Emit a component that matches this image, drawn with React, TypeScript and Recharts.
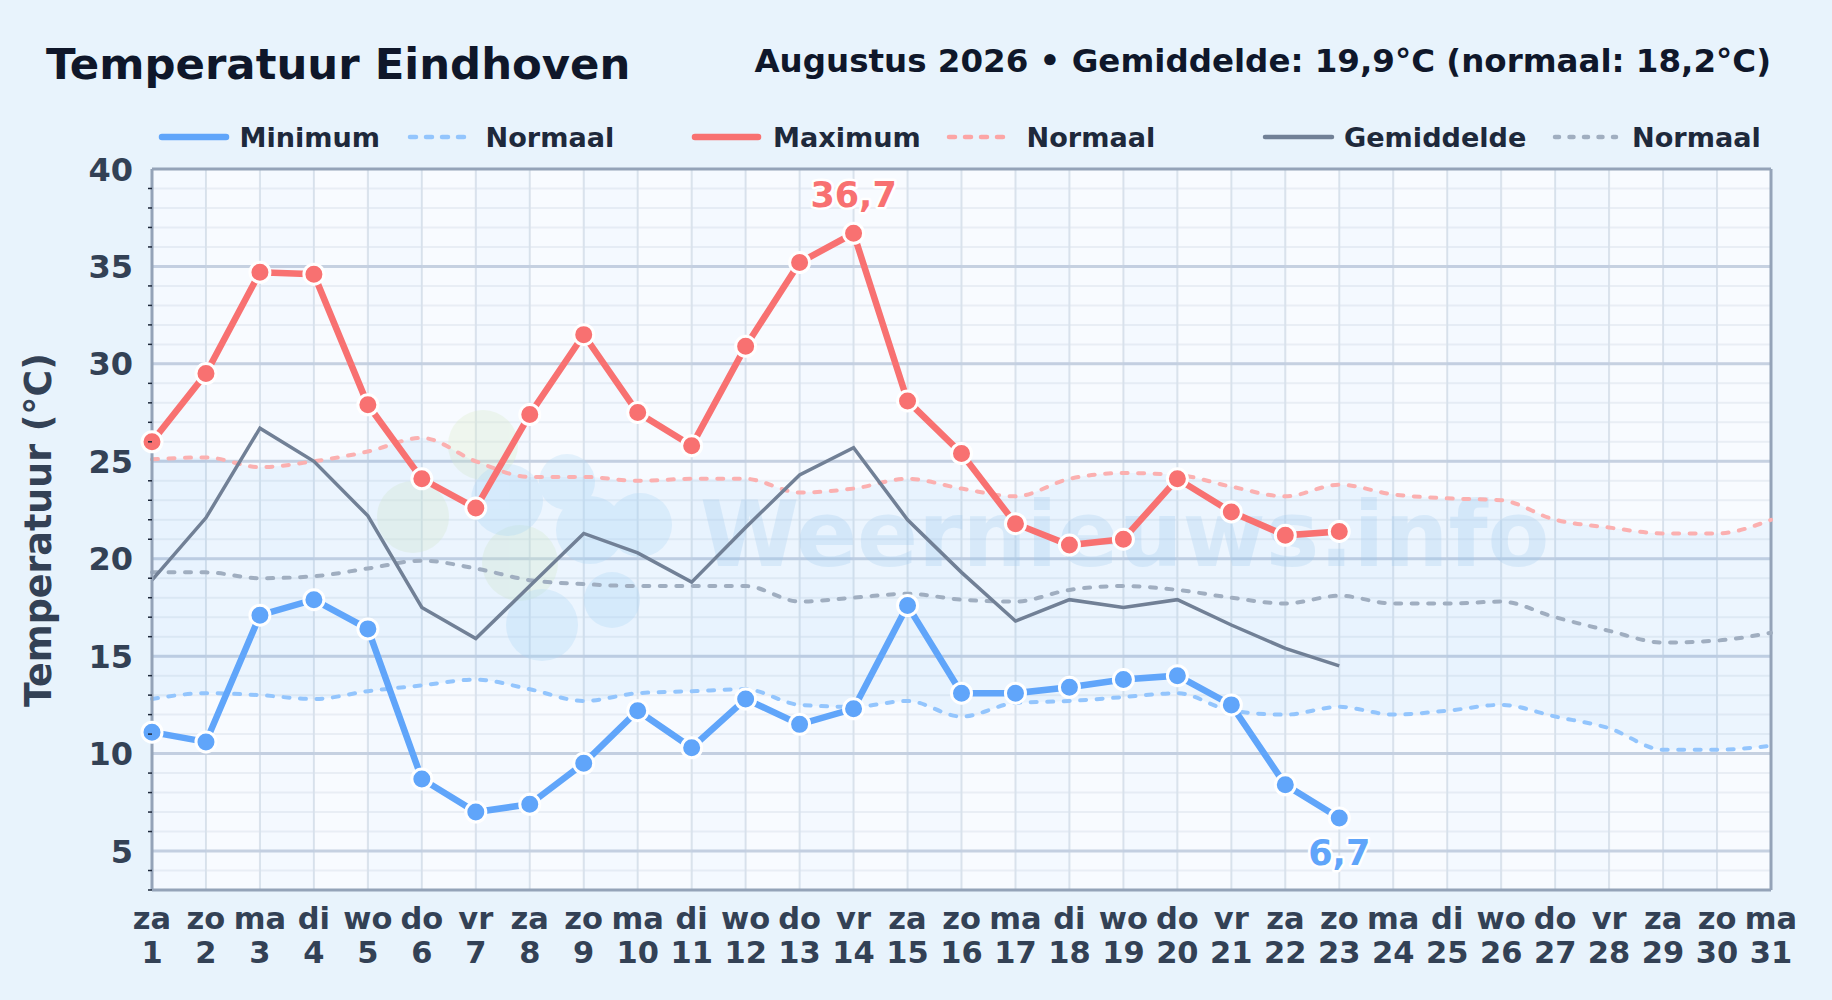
import { Area, CartesianGrid, ComposedChart, Customized, Legend, Line, ReferenceArea, ReferenceLine, XAxis, YAxis } from 'recharts';

// Temperaturen augustus 2026, Eindhoven
const days = [1, 2, 3, 4, 5, 6, 7, 8, 9, 10, 11, 12, 13, 14, 15, 16, 17, 18, 19, 20, 21, 22, 23, 24, 25, 26, 27, 28, 29, 30, 31];
const weekdays = ['za', 'zo', 'ma', 'di', 'wo', 'do', 'vr', 'za', 'zo', 'ma', 'di', 'wo', 'do', 'vr', 'za', 'zo', 'ma', 'di', 'wo', 'do', 'vr', 'za', 'zo', 'ma', 'di', 'wo', 'do', 'vr', 'za', 'zo', 'ma'];
const maxTemps = [26.0, 29.5, 34.7, 34.6, 27.9, 24.1, 22.6, 27.4, 31.5, 27.5, 25.8, 30.9, 35.2, 36.7, 28.1, 25.4, 21.8, 20.7, 21.0, 24.1, 22.4, 21.2, 21.4];
const minTemps = [11.1, 10.6, 17.1, 17.9, 16.4, 8.7, 7.0, 7.4, 9.5, 12.2, 10.3, 12.8, 11.5, 12.3, 17.6, 13.1, 13.1, 13.4, 13.8, 14.0, 12.5, 8.4, 6.7];
const meanTemps = [18.9, 22.1, 26.7, 25.0, 22.2, 17.5, 15.9, 18.6, 21.3, 20.3, 18.8, 21.6, 24.3, 25.7, 22.0, 19.3, 16.8, 17.9, 17.5, 17.9, 16.6, 15.4, 14.5];
const normalMax = [25.1, 25.2, 24.7, 25.0, 25.5, 26.2, 25.0, 24.2, 24.2, 24.0, 24.1, 24.1, 23.4, 23.6, 24.1, 23.6, 23.2, 24.1, 24.4, 24.3, 23.7, 23.2, 23.8, 23.3, 23.1, 23.0, 22.0, 21.6, 21.3, 21.3, 22.0];
const normalMean = [19.3, 19.3, 19.0, 19.1, 19.5, 19.9, 19.5, 18.9, 18.7, 18.6, 18.6, 18.6, 17.8, 18.0, 18.2, 17.9, 17.8, 18.4, 18.6, 18.4, 18.0, 17.7, 18.1, 17.7, 17.7, 17.8, 17.0, 16.3, 15.7, 15.8, 16.2];
const normalMin = [12.8, 13.1, 13.0, 12.8, 13.2, 13.5, 13.8, 13.3, 12.7, 13.1, 13.2, 13.3, 12.5, 12.4, 12.7, 11.9, 12.6, 12.7, 12.9, 13.1, 12.2, 12.0, 12.4, 12.0, 12.2, 12.5, 11.9, 11.3, 10.2, 10.2, 10.4];

const yTicks = [3, 4, 5, 6, 7, 8, 9, 10, 11, 12, 13, 14, 15, 16, 17, 18, 19, 20, 21, 22, 23, 24, 25, 26, 27, 28, 29, 30, 31, 32, 33, 34, 35, 36, 37, 38, 39, 40];
const stripeStarts = [1, 3, 5, 7, 9, 11, 13, 15, 17, 19, 21, 23, 25, 27, 29];
const highestDay = 14;
const lowestDay = 23;

const FONT = '"DejaVu Sans", sans-serif';
const BLUE = '#60a5fa';
const RED = '#f87171';
const GREY = '#718096';
const AXIS_TEXT = '#334155';

const legendItems = [
  { name: 'Minimum', color: BLUE, x1: 162, x2: 226, textX: 239.5, width: 6.5, dash: undefined },
  { name: 'Normaal', color: '#93c5fd', x1: 410, x2: 464, textX: 485.5, width: 4.5, dash: '6 10' },
  { name: 'Maximum', color: RED, x1: 695, x2: 758, textX: 773, width: 6.5, dash: undefined },
  { name: 'Normaal', color: '#fca5a5', x1: 949, x2: 1003, textX: 1026.5, width: 4.5, dash: '6 10' },
  { name: 'Gemiddelde', color: GREY, x1: 1265, x2: 1332, textX: 1344, width: 4.5, dash: undefined },
  { name: 'Normaal', color: '#a0aec0', x1: 1555, x2: 1616, textX: 1632, width: 4.5, dash: '4 10.5' },
];

const data = days.map((day, i) => ({
  day,
  max: maxTemps[i] ?? null,
  min: minTemps[i] ?? null,
  mean: meanTemps[i] ?? null,
  normalMax: normalMax[i],
  normalMean: normalMean[i],
  normalMin: normalMin[i],
  band: [normalMin[i], normalMax[i]],
}));

function DayTick({ x, y, payload }: any) {
  return (
    <text x={x} textAnchor="middle" fontFamily={FONT} fontWeight={700} fontSize={30.5} fill={AXIS_TEXT}>
      <tspan x={x} y={y + 31}>{weekdays[payload.value - 1]}</tspan>
      <tspan x={x} y={y + 65}>{payload.value}</tspan>
    </text>
  );
}

function TempTick({ x, y, payload }: any) {
  if (payload.value % 5 === 0) {
    return (
      <text x={x - 11} y={y + 11.5} textAnchor="end" fontFamily={FONT} fontWeight={700} fontSize={32} fill={AXIS_TEXT}>
        {payload.value}
      </text>
    );
  }
  return <line x1={x + 4} x2={x + 8} y1={y} y2={y} stroke="#1e293b" strokeWidth={1.5} />;
}

function Dot({ cx, cy, color }: any) {
  if (cx == null || cy == null) return null;
  return <circle cx={cx} cy={cy} r={10} fill={color} stroke="#fff" strokeWidth={3} />;
}

function ValueLabel({ x, y, value, index, day, color, dy }: any) {
  if (days[index] !== day) return null;
  return (
    <text
      x={x}
      y={y + dy}
      textAnchor="middle"
      fontFamily={FONT}
      fontWeight={700}
      fontSize={35}
      fill={color}
      stroke="#fff"
      strokeWidth={5}
      strokeLinejoin="round"
      paintOrder="stroke"
    >
      {String(value).replace('.', ',')}
    </text>
  );
}

// logo + naam op de achtergrond
function Watermark() {
  return (
    <g>
      <g fill="#dcedc8" opacity={0.3}>
        <circle cx={483} cy={445} r={35} />
        <circle cx={413} cy={517} r={36} />
        <circle cx={520} cy={563} r={38} />
      </g>
      <g fill="#b5dcf7" opacity={0.3}>
        <circle cx={507} cy={500} r={36} />
        <circle cx={567} cy={482} r={28} />
        <circle cx={640} cy={525} r={32} />
        <circle cx={612} cy={600} r={28} />
        <circle cx={542} cy={625} r={36} />
        <circle cx={590} cy={530} r={34} />
      </g>
      <text x={700} y={566} fontFamily={FONT} fontWeight={700} fontSize={90} fill="#a9d0f0" opacity={0.28}>
        Weernieuws.info
      </text>
    </g>
  );
}

function Titles() {
  return (
    <g fontFamily={FONT} fontWeight={700}>
      <text x={46} y={79} fontSize={43.4} fill="#0f172a">Temperatuur Eindhoven</text>
      <text x={1771} y={72} fontSize={32.5} textAnchor="end" fill="#0f172a">Augustus 2026 • Gemiddelde: 19,9°C (normaal: 18,2°C)</text>
      <text x={51} y={530} fontSize={36.4} textAnchor="middle" fill={AXIS_TEXT} transform="rotate(-90 51 530)">Temperatuur (°C)</text>
    </g>
  );
}

function renderLegend() {
  return (
    <svg width={1832} height={160} style={{ position: 'absolute', left: 0, top: 0, overflow: 'visible' }}>
      {legendItems.map((item) => (
        <g key={item.textX}>
          <line x1={item.x1} x2={item.x2} y1={137} y2={137} stroke={item.color} strokeWidth={item.width} strokeDasharray={item.dash} strokeLinecap="round" />
          <text x={item.textX} y={146.5} fontFamily={FONT} fontWeight={700} fontSize={27.1} fill="#1e293b">{item.name}</text>
        </g>
      ))}
    </svg>
  );
}

export default function App() {
  return (
    <div style={{ position: 'absolute', left: 0, top: 0, width: 1832, height: 1000, background: '#e8f3fc' }}>
      <ComposedChart width={1832} height={1000} data={data} margin={{ top: 169, right: 61, bottom: 0, left: 0 }}>
        <Legend content={renderLegend} wrapperStyle={{ position: 'absolute', left: 0, top: 0, width: 0, height: 0 }} />
        <CartesianGrid fill="#f8fbff" stroke="#e9eef5" strokeWidth={2} horizontalValues={yTicks} verticalValues={[]} vertical={false} />
        {stripeStarts.map((d) => (
          <ReferenceArea key={d} x1={d} x2={d + 1} fill="#3b9cf0" fillOpacity={0.02} stroke="none" />
        ))}
        <Customized component={Watermark} />
        <Area dataKey="band" type="monotone" fill="#55a8f5" fillOpacity={0.07} stroke="none" isAnimationActive={false} legendType="none" />
        <CartesianGrid fill="none" stroke="#dbe3ec" strokeWidth={2} horizontal={false} verticalValues={days} />
        <CartesianGrid fill="none" stroke="#c6d1e1" strokeWidth={3} vertical={false} horizontalValues={[5, 10, 15, 20, 25, 30, 35]} />
        <XAxis dataKey="day" type="number" domain={[1, 31]} ticks={days} interval={0} height={110} tick={<DayTick />} tickLine={false} axisLine={{ stroke: '#94a3b8', strokeWidth: 3 }} />
        <YAxis type="number" domain={[3, 40]} ticks={yTicks} interval={0} width={152} tick={<TempTick />} tickLine={false} axisLine={{ stroke: '#94a3b8', strokeWidth: 3 }} />
        <ReferenceLine y={40} stroke="#94a3b8" strokeWidth={3} />
        <ReferenceLine x={31} stroke="#94a3b8" strokeWidth={3} />
        <Line dataKey="normalMin" name="Normaal" type="monotone" stroke="#93c5fd" strokeWidth={4} strokeDasharray="6 10.5" strokeLinecap="round" dot={false} activeDot={false} isAnimationActive={false} />
        <Line dataKey="normalMax" name="Normaal" type="monotone" stroke="#fbb0b0" strokeWidth={4} strokeDasharray="6 10.5" strokeLinecap="round" dot={false} activeDot={false} isAnimationActive={false} />
        <Line dataKey="normalMean" name="Normaal" type="monotone" stroke="#a0aec0" strokeWidth={4} strokeDasharray="6 10.5" strokeLinecap="round" dot={false} activeDot={false} isAnimationActive={false} />
        <Line dataKey="mean" name="Gemiddelde" stroke={GREY} strokeWidth={3.5} dot={false} activeDot={false} isAnimationActive={false} />
        <Line dataKey="min" name="Minimum" stroke={BLUE} strokeWidth={6.5} dot={<Dot color={BLUE} />} activeDot={false} label={<ValueLabel day={lowestDay} color={BLUE} dy={47} />} isAnimationActive={false} />
        <Line dataKey="max" name="Maximum" stroke={RED} strokeWidth={6.5} dot={<Dot color={RED} />} activeDot={false} label={<ValueLabel day={highestDay} color={RED} dy={-26} />} isAnimationActive={false} />
        <Customized component={Titles} />
      </ComposedChart>
    </div>
  );
}
